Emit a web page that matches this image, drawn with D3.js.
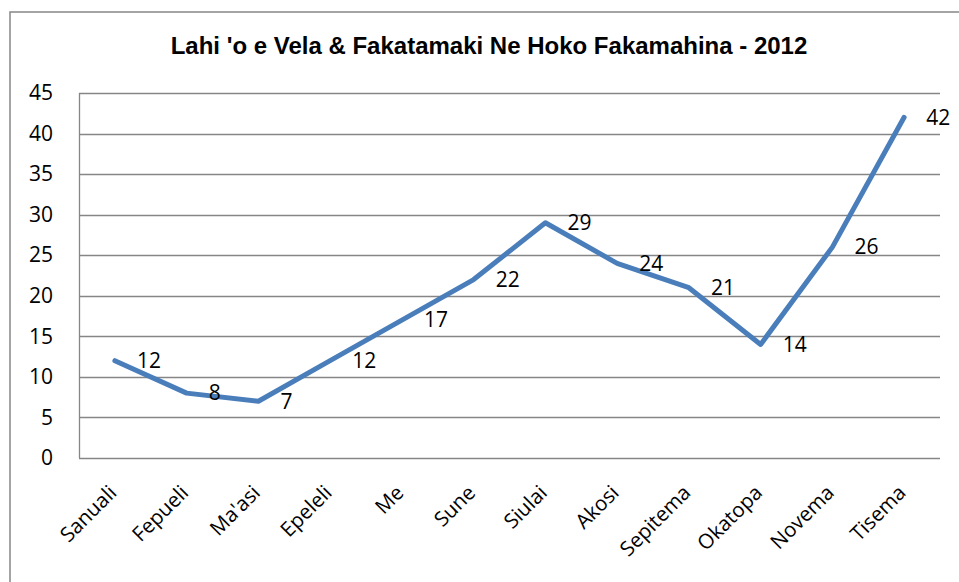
<!DOCTYPE html>
<html>
<head>
<meta charset="utf-8">
<script src="https://cdn.jsdelivr.net/npm/d3@7"></script>
<style>
  body { margin: 0; background: #fff; }
  text { fill: #000; }
</style>
</head>
<body>
<div id="chart"></div>
<script>
// month names and counts
var months = ["Sanuali", "Fepueli", "Ma'asi", "Epeleli", "Me", "Sune", "Siulai", "Akosi", "Sepitema", "Okatopa", "Novema", "Tisema"];
var counts = [12, 8, 7, 12, 17, 22, 29, 24, 21, 14, 26, 42];
var yTicks = [0, 5, 10, 15, 20, 25, 30, 35, 40, 45];

var svgWidth = 959;
var svgHeight = 582;

var margin = { top: 93, right: 19, bottom: 124, left: 79 };
var width = svgWidth - margin.left - margin.right;
var height = svgHeight - margin.top - margin.bottom;

var svg = d3.select("#chart")
  .append("svg")
  .attr("width", svgWidth)
  .attr("height", svgHeight);

// outer frame (right and bottom edges are cut off)
svg.append("rect")
  .attr("x", 10)
  .attr("y", 12)
  .attr("width", 1000)
  .attr("height", 600)
  .attr("fill", "none")
  .attr("stroke", "#878787")
  .attr("stroke-width", 1.5);

svg.append("text")
  .attr("x", 489)
  .attr("y", 54)
  .attr("text-anchor", "middle")
  .style("font-family", "'Liberation Sans', Arial, sans-serif")
  .style("font-weight", "bold")
  .style("font-size", "24px")
  .text("Lahi 'o e Vela & Fakatamaki Ne Hoko Fakamahina - 2012");

var chart = svg.append("g")
  .attr("transform", `translate(${margin.left}, ${margin.top})`);

var xScale = d3.scaleBand()
  .domain(months)
  .range([0, width]);

var yScale = d3.scaleLinear()
  .domain([0, 45])
  .range([height, 0]);

// gridlines
chart.append("g")
  .selectAll("line")
  .data(yTicks)
  .enter()
  .append("line")
  .attr("x1", 0)
  .attr("x2", width)
  .attr("y1", d => Math.round(yScale(d)) + 0.5)
  .attr("y2", d => Math.round(yScale(d)) + 0.5)
  .attr("stroke", "#868686")
  .attr("stroke-width", 1.3);

chart.append("line")
  .attr("x1", 0.5).attr("x2", 0.5)
  .attr("y1", 0).attr("y2", height)
  .attr("stroke", "#868686")
  .attr("stroke-width", 1.3);

// y labels
var leftAxis = d3.axisLeft(yScale).tickValues(yTicks).tickSize(0).tickPadding(26);
var yAxis = chart.append("g").call(leftAxis);
yAxis.select(".domain").remove();
yAxis.selectAll("text")
  .style("font-family", "'Open Sans', sans-serif")
  .style("font-size", "21px")
  .attr("fill", "#000");

// x labels
var bottomAxis = d3.axisBottom(xScale).tickSize(0).tickPadding(0);
var xAxis = chart.append("g")
  .attr("transform", `translate(0, ${height})`)
  .call(bottomAxis);
xAxis.select(".domain").remove();
xAxis.selectAll("text")
  .style("font-family", "'Open Sans', sans-serif")
  .style("font-size", "20.5px")
  .attr("fill", "#000")
  .attr("text-anchor", "end")
  .attr("y", 0)
  .attr("dy", 0)
  .attr("transform", "translate(3, 36) rotate(-45)");

// line
var line = d3.line()
  .x((d, i) => xScale(months[i]) + xScale.bandwidth() / 2)
  .y(d => yScale(d));

chart.append("path")
  .datum(counts)
  .attr("d", line)
  .attr("fill", "none")
  .attr("stroke", "#4A7EBB")
  .attr("stroke-width", 5)
  .attr("stroke-linejoin", "round")
  .attr("stroke-linecap", "round");

// value labels
chart.append("g")
  .selectAll("text")
  .data(counts)
  .enter()
  .append("text")
  .attr("x", (d, i) => xScale(months[i]) + xScale.bandwidth() / 2 + 22)
  .attr("y", d => yScale(d))
  .attr("dy", "0.35em")
  .style("font-family", "'Open Sans', sans-serif")
  .style("font-size", "21px")
  .text(d => d);
</script>
</body>
</html>
